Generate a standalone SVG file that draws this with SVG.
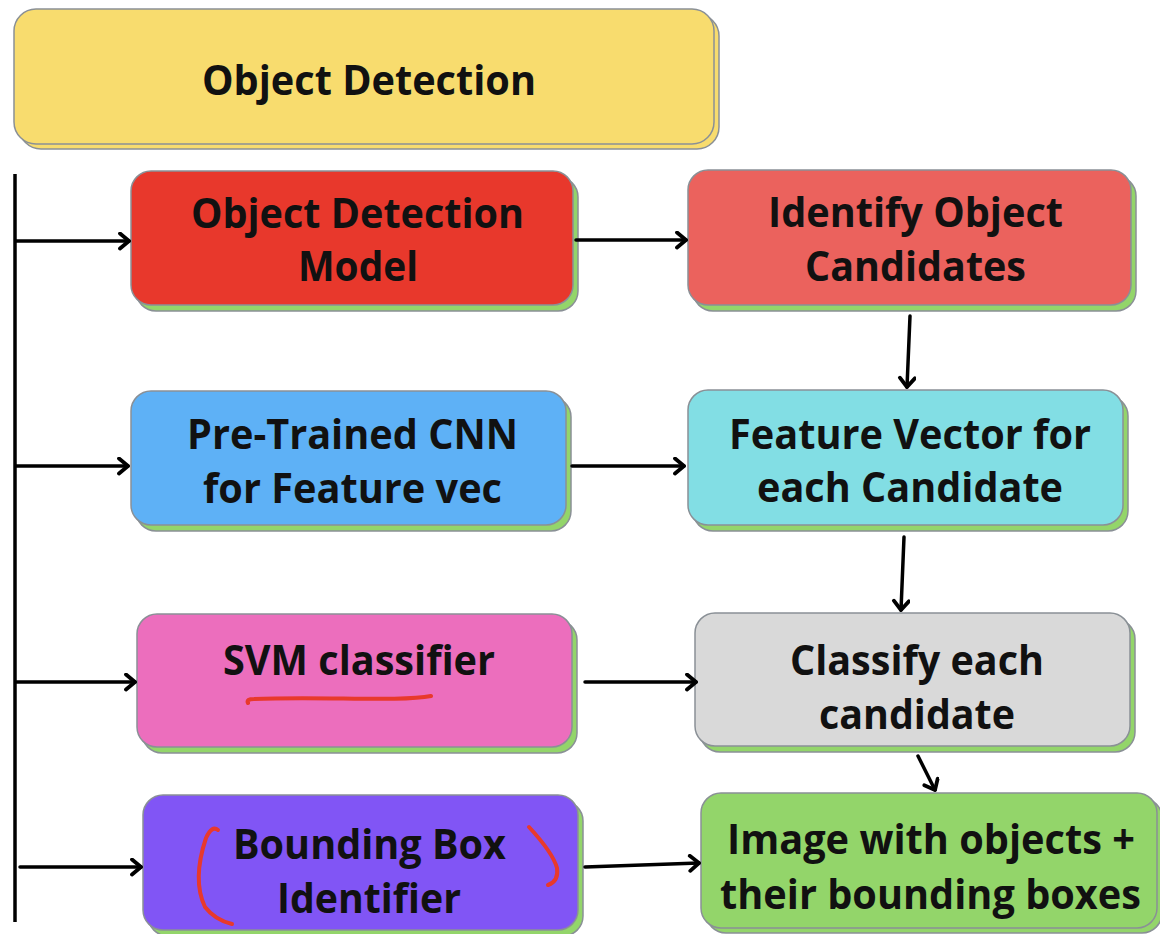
<svg xmlns="http://www.w3.org/2000/svg" width="1160" height="934" viewBox="0 0 1160 934">
  <style>
    .back { fill: #93d56a; stroke: #8a9096; stroke-width: 1.5; }
    .front { stroke: #8a9096; stroke-width: 1.5; }
    .label { font-family: "Open Sans", "DejaVu Sans", sans-serif; font-weight: 700; font-size: 41px; fill: #111111; }
    .link { stroke: #000000; stroke-width: 3.5; fill: none; stroke-linecap: round; marker-end: url(#chevron); }
    .rail { stroke: #000000; stroke-width: 3.5; fill: none; }
    .ink { stroke: #e8392c; stroke-width: 4; fill: none; stroke-linecap: round; stroke-linejoin: round; }
  </style>
  <defs>
    <marker id="chevron" markerUnits="userSpaceOnUse" markerWidth="15" markerHeight="19" refX="12" refY="9" orient="auto">
      <path d="M3,1.5 L12,9 L3,16.5" fill="none" stroke="#000000" stroke-width="3.8" stroke-linecap="round" stroke-linejoin="round"/>
    </marker>
  </defs>

  <rect width="1160" height="934" fill="#ffffff"/>

  <!-- title -->
  <g id="title">
    <rect x="19" y="14" width="700" height="135" rx="22" fill="#f8dc6e" stroke="#8a9096" stroke-width="1.5"/>
    <rect x="14" y="9" width="700" height="135" rx="22" class="front" fill="#f8dc6e"/>
    <text class="label" x="202" y="95" textLength="334" lengthAdjust="spacingAndGlyphs">Object Detection</text>
  </g>

  <!-- left column -->
  <g id="detection-model">
    <rect x="136" y="177" width="442" height="134" rx="20" class="back"/>
    <rect x="131" y="171" width="442" height="134" rx="20" class="front" fill="#e8382c"/>
    <text class="label" x="191" y="228" textLength="333" lengthAdjust="spacingAndGlyphs">Object Detection</text>
    <text class="label" x="298" y="281" textLength="120" lengthAdjust="spacingAndGlyphs">Model</text>
  </g>

  <g id="pretrained-cnn">
    <rect x="136" y="397" width="435" height="134" rx="20" class="back"/>
    <rect x="131" y="391" width="435" height="134" rx="20" class="front" fill="#5eb1f6"/>
    <text class="label" x="187" y="449" textLength="331" lengthAdjust="spacingAndGlyphs">Pre-Trained CNN</text>
    <text class="label" x="203" y="503" textLength="299" lengthAdjust="spacingAndGlyphs">for Feature vec</text>
  </g>

  <g id="svm-classifier">
    <rect x="142" y="620" width="435" height="133" rx="20" class="back"/>
    <rect x="137" y="614" width="435" height="133" rx="20" class="front" fill="#ec6ebd"/>
    <text class="label" x="223" y="675" textLength="272" lengthAdjust="spacingAndGlyphs">SVM classifier</text>
    <path class="ink" d="M248,703 Q246,699 254,699 C320,696 400,702 431,696"/>
  </g>

  <g id="bounding-box-identifier">
    <rect x="148" y="801" width="435" height="135" rx="20" class="back"/>
    <rect x="143" y="795" width="435" height="135" rx="20" class="front" fill="#8155f5"/>
    <text class="label" x="233" y="859" textLength="273" lengthAdjust="spacingAndGlyphs">Bounding Box</text>
    <text class="label" x="277" y="913" textLength="184" lengthAdjust="spacingAndGlyphs">Identifier</text>
    <path class="ink" d="M218,830 Q212,825 206,838 Q192,880 205,907 Q215,920 232,924"/>
    <path class="ink" d="M529,827 Q553,853 557,868 Q559,881 548,885"/>
  </g>

  <!-- right column -->
  <g id="object-candidates">
    <rect x="693" y="176" width="443" height="135" rx="20" class="back"/>
    <rect x="688" y="170" width="443" height="135" rx="20" class="front" fill="#eb625d"/>
    <text class="label" x="768" y="227" textLength="295" lengthAdjust="spacingAndGlyphs" fill="#1e1111">Identify Object</text>
    <text class="label" x="805" y="281" textLength="221" lengthAdjust="spacingAndGlyphs" fill="#1e1111">Candidates</text>
  </g>

  <g id="feature-vectors">
    <rect x="693" y="396" width="435" height="135" rx="20" class="back"/>
    <rect x="688" y="390" width="435" height="135" rx="20" class="front" fill="#82dee4"/>
    <text class="label" x="729" y="449" textLength="362" lengthAdjust="spacingAndGlyphs">Feature Vector for</text>
    <text class="label" x="757" y="502" textLength="306" lengthAdjust="spacingAndGlyphs">each Candidate</text>
  </g>

  <g id="classify-candidates">
    <rect x="700" y="619" width="435" height="133" rx="20" class="back"/>
    <rect x="695" y="613" width="435" height="133" rx="20" class="front" fill="#d9d9d9"/>
    <text class="label" x="790" y="675" textLength="254" lengthAdjust="spacingAndGlyphs">Classify each</text>
    <text class="label" x="819" y="729" textLength="196" lengthAdjust="spacingAndGlyphs">candidate</text>
  </g>

  <g id="result-image">
    <rect x="706" y="798" width="456" height="135" rx="20" class="back"/>
    <rect x="701" y="793" width="456" height="135" rx="20" class="front" fill="#93d56a"/>
    <text class="label" x="727" y="854" textLength="408" lengthAdjust="spacingAndGlyphs">Image with objects +</text>
    <text class="label" x="720" y="909" textLength="421" lengthAdjust="spacingAndGlyphs">their bounding boxes</text>
  </g>

  <!-- connectors -->
  <g id="connectors">
    <line class="rail" x1="15" y1="174" x2="15" y2="922"/>
    <line class="link" x1="16" y1="241" x2="129" y2="241"/>
    <line class="link" x1="16" y1="466" x2="128" y2="466"/>
    <line class="link" x1="16" y1="682" x2="135" y2="682"/>
    <line class="link" x1="20" y1="867" x2="141" y2="867"/>

    <line class="link" x1="576" y1="240" x2="686" y2="240"/>
    <line class="link" x1="572" y1="466" x2="684" y2="466"/>
    <line class="link" x1="585" y1="682" x2="696" y2="682"/>
    <line class="link" x1="585" y1="867" x2="699" y2="863"/>

    <line class="link" x1="910" y1="316" x2="907" y2="387"/>
    <line class="link" x1="904" y1="537" x2="901" y2="610"/>
    <line class="link" x1="918" y1="756" x2="935" y2="790"/>
  </g>
</svg>
